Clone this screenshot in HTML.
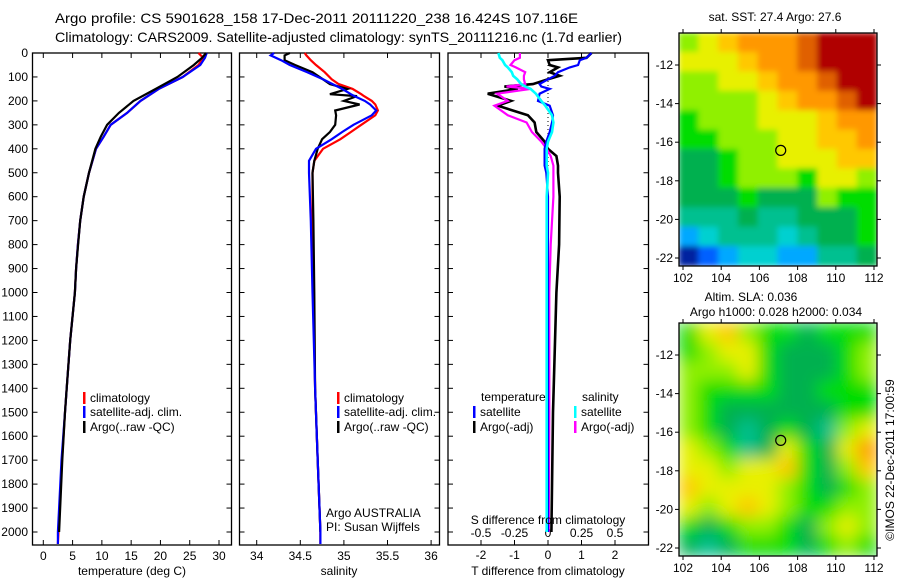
<!DOCTYPE html>
<html><head><meta charset="utf-8">
<style>
html,body{margin:0;padding:0;background:#fff;}
svg{display:block;font-family:"Liberation Sans",sans-serif;}
text{font-size:12px;fill:#000;}
</style></head>
<body>
<svg id="fig" width="900" height="580" viewBox="0 0 900 580" xmlns="http://www.w3.org/2000/svg">
<defs>
<filter id="blurS" x="0" y="0" width="1" height="1" filterUnits="objectBoundingBox"><feGaussianBlur stdDeviation="3" edgeMode="duplicate"/></filter>
<filter id="blurL" x="0" y="0" width="1" height="1" filterUnits="objectBoundingBox"><feGaussianBlur stdDeviation="8" edgeMode="duplicate"/></filter>
<clipPath id="clipTop"><rect x="679" y="33" width="198" height="233"/></clipPath>
<clipPath id="clipBot"><rect x="679" y="323" width="198" height="233"/></clipPath>
</defs>
<text x="55" y="23" textLength="523" lengthAdjust="spacingAndGlyphs" style="font-size:14px">Argo profile: CS 5901628_158 17-Dec-2011 20111220_238 16.424S 107.116E</text>
<text x="55" y="42" textLength="567" lengthAdjust="spacingAndGlyphs" style="font-size:14px">Climatology: CARS2009. Satellite-adjusted climatology: synTS_20111216.nc (1.7d earlier)</text>
<g id="plots"></g>
</svg>
<script>
// ---------- data ----------
const depthTicks = [0,100,200,300,400,500,600,700,800,900,1000,1100,1200,1300,1400,1500,1600,1700,1800,1900,2000];
const tempTicks = [0,5,10,15,20,25,30];
const salTicks = [34,34.5,35,35.5,36];
const tdiffTicks = [-2,-1,0,1,2];
const sdiffTicks = [-0.5,-0.25,0,0.25,0.5];
const sdiffLabels = ["-0.5","-0.25","0","0.25","0.5"];

const depthT = [0,20,50,100,150,200,250,300,350,400,500,600,700,800,900,1000,1200,1400,1500,1700,2000,2050];
const argoT = [27.8,27.1,25.7,22.9,19.2,15.4,12.9,10.9,9.8,8.9,7.8,6.9,6.3,5.95,5.6,5.4,4.6,4.0,3.7,3.25,2.7,2.7];
const climT = [26.5,27.3,26.5,23.8,19.7,16.6,14.3,11.5,10.3,9.0,7.8,6.9,6.3,5.9,5.6,5.4,4.6,4.0,3.7,3.2,2.6,2.5];
const satT  = [27.9,27.6,26.8,23.8,19.7,16.6,14.3,11.5,10.3,9.0,7.8,6.9,6.3,5.9,5.6,5.4,4.6,4.0,3.7,3.1,2.5,2.5];

const depthS = [0,10,30,50,80,110,130,150,172,180,200,215,240,260,300,330,360,400,450,500,700,1000,1400,1700,2000,2050];
const argoS = [34.38,34.32,34.32,34.44,34.64,34.76,34.84,35.04,34.84,35.15,35.0,35.18,34.9,34.91,34.9,34.84,34.75,34.7,34.66,34.64,34.65,34.66,34.67,34.7,34.73,34.73];
const climS = [34.55,34.57,34.62,34.68,34.78,34.86,34.94,35.1,35.2,35.23,35.32,35.36,35.39,35.36,35.2,35.08,34.96,34.76,34.66,34.64,34.64,34.65,34.67,34.7,34.73,34.73];
const satS  = [34.2,34.16,34.28,34.38,34.58,34.76,34.87,34.98,35.08,35.12,35.24,35.3,35.37,35.32,35.11,34.98,34.86,34.68,34.6,34.6,34.62,34.64,34.67,34.7,34.73,34.73];

const depthD = [0,20,30,50,60,80,95,110,130,140,150,170,200,220,260,290,330,370,400,430,470,500,600,800,1000,1500,2000];
const argoTd = [1.3,1.15,0,0.05,0.3,0.05,0.35,0,-0.45,-1.3,-0.9,-1.8,-1.1,-1.5,-0.6,-0.4,-0.35,-0.1,0,0.25,0.3,0.3,0.35,0.33,0.25,0.15,0.1];
const satTd  = [1.3,1.15,0.95,0.9,0.65,0.3,0.2,0,-0.25,-0.2,0.05,-0.25,-0.3,0.05,0.15,0.12,0.05,-0.05,-0.1,-0.1,-0.1,-0.05,0,0,0,0,0];
const argoSd = [-0.21,-0.21,-0.25,-0.28,-0.24,-0.17,-0.18,-0.18,-0.17,-0.31,-0.13,-0.38,-0.3,-0.4,-0.3,-0.16,-0.12,-0.05,-0.01,0.02,0.04,0.04,0.04,0.02,0.01,0.01,0.005];
const satSd  = [-0.37,-0.36,-0.34,-0.32,-0.3,-0.27,-0.26,-0.23,-0.2,-0.17,-0.13,-0.09,-0.05,-0.02,0.03,0.04,0.03,0,-0.01,-0.01,-0.01,0,-0.01,-0.01,-0.01,-0.01,-0.01];

const latTicks = [-12,-14,-16,-18,-20,-22];
const lonTicks = [102,104,106,108,110,112];
const sstGrid = [
[7,8,9,10,10,10,11,12,12,12],
[8,8,8,9,10,10,11,12,12,12],
[7,7,8,8,9,10,10,11,12,12],
[7,7,7,7,8,9,10,10,11,12],
[6,7,7,7,8,8,8,9,10,10],
[6,6,7,7,7,8,8,9,9,10],
[5,5,6,7,7,8,8,8,9,9],
[5,5,6,7,7,7,6,8,8,7],
[5,5,5,6,5,5,5,7,6,6],
[4,4,4,5,4,4,5,5,5,6],
[2,3,4,4,4,3,4,5,5,6],
[0,1,2,3,3,2,2,4,4,5]];
const slaGrid = [
[6,8,9,7,6,6,5,6,6,6],
[6,7,8,8,6,5,5,5,6,7],
[7,7,7,8,6,5,5,5,6,7],
[7,6,6,6,6,5,5,6,6,6],
[7,6,5,5,5,5,5,5,6,6],
[7,6,5,4,5,6,5,4,7,8],
[8,7,6,4,5,8,6,5,8,10],
[8,8,7,8,8,9,6,5,7,9],
[9,8,8,8,8,7,6,5,6,7],
[8,7,8,9,8,7,6,6,7,7],
[6,5,6,7,7,6,5,7,8,7],
[5,4,5,6,6,6,5,6,7,6]];
const palette = ["#0020a0","#0060ff","#00a8ff","#00d0d0","#00c090","#00b050","#00dd00","#90f000","#e8f000","#ffc800","#ff9800","#e06000","#b00000"];
const argoLon = 107.116, argoLat = -16.424;

// ---------- helpers ----------
const NS = "http://www.w3.org/2000/svg";
const root = document.getElementById("plots");
function el(tag, attrs, parent){ const e=document.createElementNS(NS,tag); for(const k in attrs) e.setAttribute(k,attrs[k]); (parent||root).appendChild(e); return e; }
function txt(x,y,s,anchor,parent){ const t=el("text",{x:x,y:y,"text-anchor":anchor||"start","dominant-baseline":"central"},parent); t.textContent=s; return t; }

const TOP=53, BOT=545;
const yD = d => TOP + d*0.2395;
const panels = [
  {x0:32.5,x1:231.5,sx:v=>43.3+v*5.857},
  {x0:239.5,x1:439.5,sx:v=>256.7+(v-34)*87.2},
  {x0:448,x1:648.5,sx:v=>548+v*33.5}
];
const sxS = v => 548 + v*4*33.5;

panels.forEach((p,i)=>{
  const fr = el("rect",{x:p.x0,y:TOP,width:p.x1-p.x0,height:BOT-TOP,fill:"none",stroke:"#000","stroke-width":1.3});
  
  
  depthTicks.forEach(d=>{
    el("line",{x1:p.x0,x2:p.x0+5,y1:yD(d),y2:yD(d),stroke:"#000"});
    el("line",{x1:p.x1-5,x2:p.x1,y1:yD(d),y2:yD(d),stroke:"#000"});
  });
});
depthTicks.forEach(d=>{ const t=txt(28,yD(d),String(d),"end");   });

function xaxis(p,ticks,labels,ylab){
  ticks.forEach((v,k)=>{
    const x=p.sx(v);
    el("line",{x1:x,x2:x,y1:BOT-5,y2:BOT,stroke:"#000"});
    el("line",{x1:x,x2:x,y1:TOP,y2:TOP+5,stroke:"#000"});
    const t=txt(x,ylab,labels?labels[k]:String(v),"middle");
    
    
  });
}
xaxis(panels[0],tempTicks,null,556);
xaxis(panels[1],salTicks,null,556);
xaxis(panels[2],tdiffTicks,null,555);
sdiffTicks.forEach((v,k)=>{ const t=txt(sxS(v),533,sdiffLabels[k],"middle");   });

function line(xs,ds,sx,color,name,w){
  const pts = xs.map((v,k)=>sx(v).toFixed(1)+","+yD(ds[k]).toFixed(1)).join(" ");
  const l = el("polyline",{points:pts,fill:"none",stroke:color,"stroke-width":w||2.2,"stroke-linejoin":"miter"});
  
  
}
// panel 3 zero line
const zl = el("line",{x1:548,x2:548,y1:TOP,y2:yD(2000),stroke:"#000","stroke-dasharray":"1,3"});



line(climT,depthT,panels[0].sx,"#f00","temp-climatology-line");
line(satT,depthT,panels[0].sx,"#00f","temp-satellite-line");
line(argoT.slice(0,21),depthT.slice(0,21),panels[0].sx,"#000","temp-argo-line");
line(climS,depthS,panels[1].sx,"#f00","sal-climatology-line");
line(argoS.slice(0,25),depthS.slice(0,25),panels[1].sx,"#000","sal-argo-line");
line(satS,depthS,panels[1].sx,"#00f","sal-satellite-line");
line(argoTd,depthD,panels[2].sx,"#000","tdiff-argo-line",2.6);
line(argoSd,depthD,sxS,"#f0f","sdiff-argo-line");
line(satTd,depthD,panels[2].sx,"#00f","tdiff-satellite-line");
line(satSd,depthD,sxS,"#0ff","sdiff-satellite-line",2.6);

function legend(x,y,color,label,name){
  const b=el("rect",{x:x,y:y-6,width:2.5,height:12,fill:color});
  
  
  const t=txt(x+7,y,label,"start");
  
  
}
[[83,"temp"],[337,"sal"]].forEach(([x,n])=>{
  legend(x,398,"#f00","climatology",n+"-legend-climatology");
  legend(x,412,"#00f","satellite-adj. clim.",n+"-legend-satellite");
  legend(x,427,"#000","Argo(..raw -QC)",n+"-legend-argo");
});
let t;
t=txt(481,397,"temperature");  
t=txt(582,397,"salinity");  
legend(473,412,"#00f","satellite","legend-tdiff-satellite");
legend(473,427,"#000","Argo(-adj)","legend-tdiff-argo");
legend(574,412,"#0ff","satellite","legend-sdiff-satellite");
legend(574,427,"#f0f","Argo(-adj)","legend-sdiff-argo");

t=txt(326,513,"Argo AUSTRALIA");  
t=txt(326,527,"PI: Susan Wijffels");  
t=txt(132,571,"temperature (deg C)","middle");  
t=txt(339,571,"salinity","middle");  
t=txt(548,571,"T difference from climatology","middle");  
t=txt(548,520,"S difference from climatology","middle");  

// ---------- maps ----------
function map(y0,grid,filt,clip,name){
  const x0=679,w=198,h=233;
  const lx = lon => 683 + (lon-102)*19.1;
  const ly = lat => y0+32 + (-12-lat)*19.3;
  const g = el("g",{"clip-path":"url(#"+clip+")"});
  const gi = el("g",{filter:"url(#"+filt+")"},g);
  const rows=grid.length, cols=grid[0].length, cw=w/cols, ch=h/rows;
  grid.forEach((row,r)=>row.forEach((v,c)=>{
    const cell=el("rect",{x:x0+c*cw-0.5,y:y0+r*ch-0.5,width:cw+1,height:ch+1,fill:palette[v]},gi);
    
    
  }));
  const fr=el("rect",{x:x0,y:y0,width:w,height:h,fill:"none",stroke:"#000","stroke-width":1.3});
  
  
  latTicks.forEach(lat=>{
    const y=ly(lat);
    el("line",{x1:x0-4,x2:x0,y1:y,y2:y,stroke:"#000"});
    el("line",{x1:x0+w,x2:x0+w+4,y1:y,y2:y,stroke:"#000"});
    const tl=txt(673,y,String(lat),"end");
    
    
  });
  lonTicks.forEach(lon=>{
    const x=lx(lon);
    el("line",{x1:x,x2:x,y1:y0-4,y2:y0,stroke:"#000"});
    el("line",{x1:x,x2:x,y1:y0+h,y2:y0+h+4,stroke:"#000"});
    const tl=txt(x,y0+245,String(lon),"middle");
    
    
  });
  const c=el("circle",{cx:lx(argoLon),cy:ly(argoLat),r:5,fill:"none",stroke:"#000","stroke-width":1.2});
  
  
}
map(33,sstGrid,"blurS","clipTop","sst-map");
map(323,slaGrid,"blurL","clipBot","sla-map");
t=txt(775,17,"sat. SST: 27.4 Argo: 27.6","middle");  
t=txt(751,297,"Altim. SLA: 0.036","middle");  
t=txt(776,312,"Argo h1000: 0.028 h2000: 0.034","middle");  
t=txt(0,0,"©IMOS 22-Dec-2011 17:00:59","middle");
t.setAttribute("transform","translate(890,460) rotate(-90)");


</script>
</body></html>
